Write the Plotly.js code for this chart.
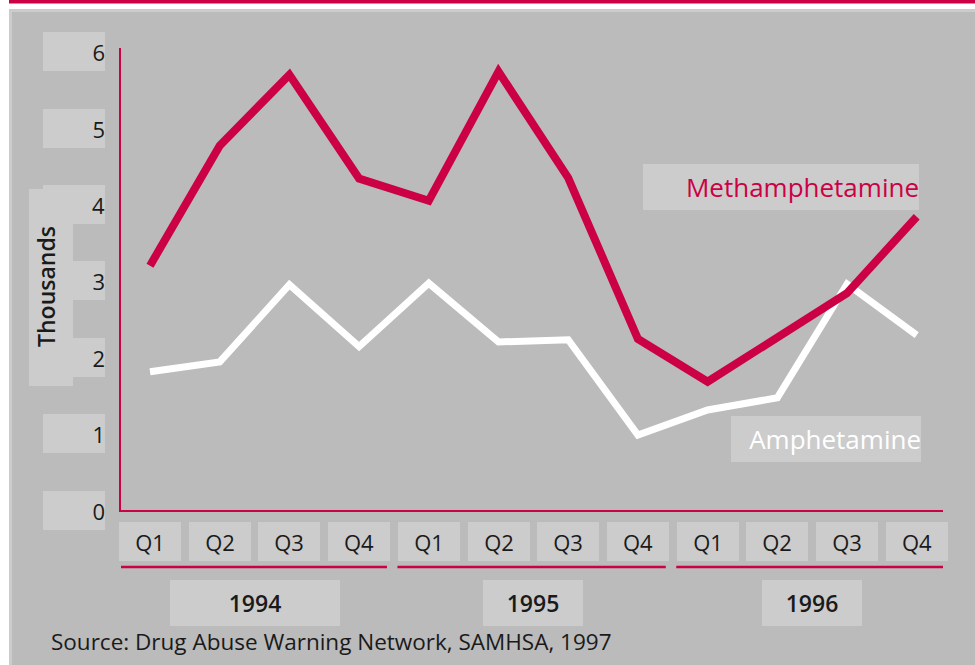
<!DOCTYPE html>
<html>
<head>
<meta charset="utf-8">
<script src="https://cdn.plot.ly/plotly-3.0.1.min.js"></script>
<style>html,body{margin:0;padding:0;background:#fff;}#chart{width:975px;height:665px;}</style>
</head>
<body>
<div id="chart"></div>
<script>
// ---- data ----
const quarters = ["Q1","Q2","Q3","Q4","Q1","Q2","Q3","Q4","Q1","Q2","Q3","Q4"];
const years = ["1994","1995","1996"];
const methamphetamine = [3.2, 4.77, 5.7, 4.34, 4.05, 5.74, 4.35, 2.24, 1.68, 2.25, 2.84, 3.84];
const amphetamine = [1.81, 1.94, 2.95, 2.14, 2.97, 2.2, 2.23, 0.98, 1.31, 1.47, 2.96, 2.29];
const yTicks = [0, 1, 2, 3, 4, 5, 6];
const seriesNames = ["Methamphetamine", "Amphetamine"];
const sourceText = "Source: Drug Abuse Warning Network, SAMHSA, 1997";
const yTitle = "Thousands";

// ---- styling ----
const RED = "#cc0044";
const BOX = "#cccccc";
const BG = "#bbbbbb";
const FONT = "'Open Sans', 'DejaVu Sans', sans-serif";
const TXT = "#1a1a1a";

const W = 975, H = 665, L = 121, R = 32, T = 48, B = 155;
const pw = W - L - R, ph = H - T - B;
const px = v => (v - L) / pw;          // pixel x -> paper
const py = v => (T + ph - v) / ph;     // pixel y -> paper

const idx = quarters.map((q, i) => i);

const traces = [
  {x: idx, y: amphetamine, type: "scatter", mode: "lines", name: seriesNames[1],
   line: {color: "#ffffff", width: 7}, hoverinfo: "skip"},
  {x: idx, y: methamphetamine, type: "scatter", mode: "lines", name: seriesNames[0],
   line: {color: RED, width: 8}, hoverinfo: "skip"}
];

const annotations = [];
const shapes = [];

// background panels
shapes.push({type: "rect", xref: "paper", yref: "paper", x0: px(0), x1: px(975), y0: py(0), y1: py(665),
  fillcolor: "#ffffff", line: {width: 0}, layer: "below"});
shapes.push({type: "rect", xref: "paper", yref: "paper", x0: px(9), x1: px(975), y0: py(9), y1: py(665),
  fillcolor: BOX, line: {width: 0}, layer: "below"});
shapes.push({type: "rect", xref: "paper", yref: "paper", x0: px(12), x1: px(975), y0: py(12), y1: py(665),
  fillcolor: BG, line: {width: 0}, layer: "below"});
shapes.push({type: "rect", xref: "paper", yref: "paper", x0: px(9), x1: px(975), y0: py(0), y1: py(3.5),
  fillcolor: RED, line: {width: 0}, layer: "below"});
// Thousands box
shapes.push({type: "rect", xref: "paper", yref: "paper", x0: px(29), x1: px(73), y0: py(386), y1: py(189),
  fillcolor: BOX, line: {width: 0}, layer: "below"});

// y tick labels with boxes
yTicks.forEach(v => {
  annotations.push({xref: "paper", yref: "y", x: px(105), y: v, xanchor: "right", yanchor: "middle",
    text: String(v), showarrow: false, width: 62, height: 39, bgcolor: BOX, borderwidth: 0, borderpad: 0,
    align: "right", font: {family: FONT, size: 22, color: TXT}});
});

// y title
annotations.push({xref: "paper", yref: "paper", x: px(46), y: py(287), text: yTitle, textangle: -90,
  showarrow: false, font: {family: FONT, size: 23, color: TXT, weight: 600}, xanchor: "center", yanchor: "middle"});

// quarter labels
quarters.forEach((q, i) => {
  annotations.push({xref: "x", yref: "paper", x: i, y: py(541.5), text: q, showarrow: false,
    width: 62, height: 39, bgcolor: BOX, borderwidth: 0, borderpad: 0,
    font: {family: FONT, size: 22, color: TXT}, xanchor: "center", yanchor: "middle"});
});

// year labels and underlines
const yearBoxW = [170, 100, 100];
years.forEach((yr, g) => {
  const s = g * 4, e = g * 4 + 3;
  annotations.push({xref: "x", yref: "paper", x: (s + e) / 2, y: py(603), text: yr, showarrow: false,
    width: yearBoxW[g], height: 46, bgcolor: BOX, borderwidth: 0, borderpad: 0,
    font: {family: FONT, size: 23, color: TXT, weight: 600}, xanchor: "center", yanchor: "middle"});
  shapes.push({type: "line", xref: "x", yref: "paper", x0: s - 0.45, x1: e + 0.4, y0: py(567), y1: py(567),
    line: {color: RED, width: 2.5}});
});

// series labels
annotations.push({xref: "paper", yref: "paper", x: px(919), y: py(187), xanchor: "right", yanchor: "middle",
  text: seriesNames[0], showarrow: false, width: 276, height: 46, bgcolor: BOX, borderwidth: 0, borderpad: 0,
  align: "right", font: {family: FONT, size: 26, color: RED}});
annotations.push({xref: "paper", yref: "paper", x: px(921), y: py(439), xanchor: "right", yanchor: "middle",
  text: seriesNames[1], showarrow: false, width: 190, height: 46, bgcolor: BOX, borderwidth: 0, borderpad: 0,
  align: "right", font: {family: FONT, size: 26, color: "#ffffff"}});

// source
annotations.push({xref: "paper", yref: "paper", x: px(49), y: py(641), xanchor: "left", yanchor: "middle",
  text: sourceText, showarrow: false, font: {family: FONT, size: 22.5, color: TXT}});

const layout = {
  width: W, height: H,
  margin: {l: L, r: R, t: T, b: B, pad: 0},
  paper_bgcolor: BG, plot_bgcolor: "rgba(0,0,0,0)",
  showlegend: false,
  xaxis: {range: [-0.416, 11.377], showgrid: false, zeroline: false, showticklabels: false,
    ticks: "", showline: true, linecolor: RED, linewidth: 2, fixedrange: true},
  yaxis: {range: [0, 6.05], showgrid: false, zeroline: false, showticklabels: false,
    ticks: "", showline: true, linecolor: RED, linewidth: 2, fixedrange: true},
  shapes: shapes,
  annotations: annotations,
  font: {family: FONT}
};

Plotly.newPlot("chart", traces, layout, {displayModeBar: false, staticPlot: true});
</script>
</body>
</html>
